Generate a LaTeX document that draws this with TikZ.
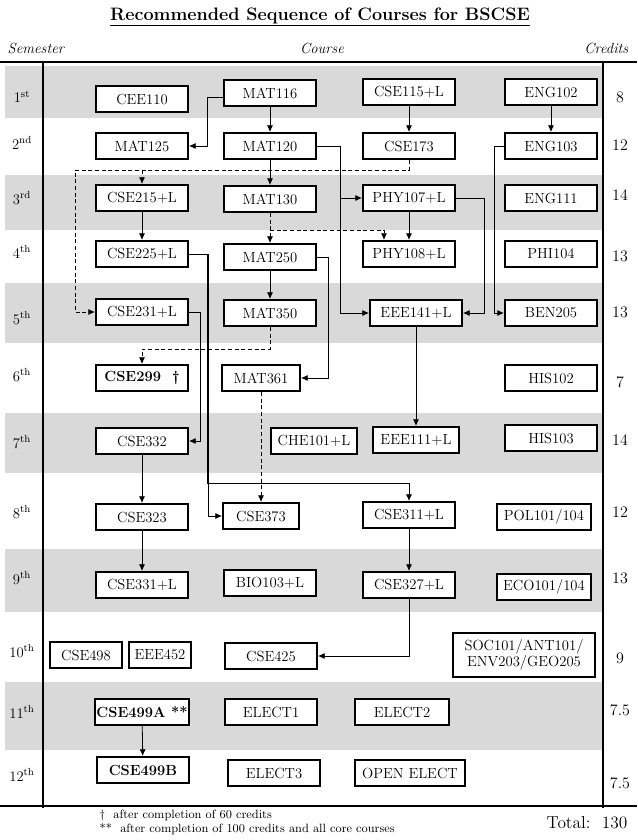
\documentclass[tikz,border=0pt]{standalone}
\usetikzlibrary{arrows.meta}
\definecolor{bandgrey}{RGB}{217,217,217}
\tikzset{
  course/.style={draw, line width=1.5pt, fill=white, minimum width=69pt, minimum height=19.5pt, inner sep=1pt, font=\fontsize{11}{12}\selectfont},
  boldcourse/.style={course, font=\fontsize{11}{12}\selectfont\bfseries},
  sem/.style={font=\fontsize{11}{13}\selectfont},
  cred/.style={font=\fontsize{12}{14}\selectfont},
  link/.style={-{Latex[length=5pt,width=4.5pt]}, line width=0.6pt},
  dlink/.style={link, dash pattern=on 3pt off 2pt},
}
\begin{document}
\begin{tikzpicture}[x=0.75pt, y=-0.75pt]
  \useasboundingbox (0,0) rectangle (637,840);
  \foreach \a/\b in {66/118, 175/230, 283/343, 413/473, 549/612, 682/750}
    \fill[bandgrey] (5,\a) rectangle (603,\b);
  \draw[line width=1.2pt] (0,62) -- (637,62) (0,806) -- (637,806);
  \draw[line width=0.9pt] (43,62) -- (43,808) (603,62) -- (603,808);

  \node[font=\fontsize{13.5}{16}\selectfont\bfseries] (title) at (320,17) {\underline{Recommended Sequence of Courses for BSCSE}};
  \node[anchor=west, font=\fontsize{11}{13}\selectfont\itshape] (hsem) at (3,48) {Semester};
  \node[font=\fontsize{11}{13}\selectfont\itshape] (hcourse) at (322,48) {Course};
  \node[anchor=east, font=\fontsize{11}{13}\selectfont\itshape] (hcred) at (633,48) {Credits};

  \foreach \n/\s/\y in {1/st/97, 2/nd/143, 3/rd/198, 4/th/252, 5/th/318, 6/th/375, 7/th/442, 8/th/512, 9/th/578, 10/th/651, 11/th/712, 12/th/775}
    \node[sem] (sem\n) at (22,\y) {\n\textsuperscript{\s}};
  \foreach \n/\c/\y in {1/8/97, 2/12/145, 3/14/195, 4/13/256, 5/13/312, 6/7/382, 7/14/440, 8/12/512, 9/13/578, 10/9/658, 11/7.5/710, 12/7.5/783}
    \node[cred] (cr\n) at (620,\y) {\c};

  \node[course] (cee110) at (142,99) {CEE110};
  \node[course] (mat116) at (270,93) {MAT116};
  \node[course] (cse115) at (409,92) {CSE115+L};
  \node[course] (eng102) at (551,92) {ENG102};
  \node[course] (mat125) at (142,146) {MAT125};
  \node[course] (mat120) at (270,146) {MAT120};
  \node[course] (cse173) at (409,146) {CSE173};
  \node[course] (eng103) at (551,146) {ENG103};
  \node[course] (cse215) at (142,198) {CSE215+L};
  \node[course] (mat130) at (270,199) {MAT130};
  \node[course] (phy107) at (409,198) {PHY107+L};
  \node[course] (eng111) at (551,198) {ENG111};
  \node[course] (cse225) at (142,254) {CSE225+L};
  \node[course] (mat250) at (270,257) {MAT250};
  \node[course] (phy108) at (409,254) {PHY108+L};
  \node[course] (phi104) at (551,254) {PHI104};
  \node[course] (cse231) at (142,312) {CSE231+L};
  \node[course] (mat350) at (270,313) {MAT350};
  \node[course] (eee141) at (416,313) {EEE141+L};
  \node[course] (ben205) at (551,313) {BEN205};
  \node[boldcourse] (cse299) at (142,378) {CSE299\ \ \textdagger};
  \node[course, minimum width=58.5pt] (mat361) at (261,378) {MAT361};
  \node[course] (his102) at (551,378) {HIS102};
  \node[course] (cse332) at (142,441) {CSE332};
  \node[course, minimum width=65pt] (che101) at (314,441) {CHE101+L};
  \node[course, minimum width=64.5pt] (eee111) at (416,440) {EEE111+L};
  \node[course] (his103) at (551,438) {HIS103};
  \node[course] (cse323) at (142,517) {CSE323};
  \node[course, minimum width=57pt] (cse373) at (261,516) {CSE373};
  \node[course] (cse311) at (409,515) {CSE311+L};
  \node[course, minimum width=70.5pt] (pol101) at (544,517) {POL101/104};
  \node[course] (cse331) at (142,585) {CSE331+L};
  \node[course] (bio103) at (270,583) {BIO103+L};
  \node[course] (cse327) at (409,585) {CSE327+L};
  \node[course, minimum width=70.5pt] (eco101) at (544,587) {ECO101/104};
  \node[course, minimum width=54pt] (cse498) at (86,655) {CSE498};
  \node[course, minimum width=47pt] (eee452) at (160,655) {EEE452};
  \node[course] (cse425) at (271,656) {CSE425};
  \node[course, minimum width=107pt, minimum height=33pt, align=center] (soc101) at (524,655) {SOC101/ANT101/\\ENV203/GEO205};
  \node[boldcourse] (cse499a) at (142,712) {CSE499A **};
  \node[course] (elect1) at (271,712) {ELECT1};
  \node[course, minimum width=70.5pt] (elect2) at (402,712) {ELECT2};
  \node[boldcourse] (cse499b) at (143,770) {CSE499B};
  \node[course] (elect3) at (274,773) {ELECT3};
  \node[course, minimum width=82.5pt] (openel) at (410,773) {OPEN ELECT};

  \begin{scope}[link]
    \draw ([yshift=-3.5pt]mat116.west) -- ++(-16,0) |- (mat125.east);
    \draw (mat116) -- (mat120);
    \draw (cse115) -- (cse173);
    \draw (eng102) -- (eng103);
    \draw (mat120) -- (mat130);
    \draw (mat120.east) -- ++(23,0) |- (phy107.west);
    \draw (mat120.east) -- ++(23,0) |- (eee141.west);
    \draw (cse215) -- (cse225);
    \draw (phy107) -- (phy108);
    \draw (phy107.east) -- ++(28,0) |- (eee141.east);
    \draw (eng103.west) -- ++(-10,0) |- (ben205.west);
    \draw (cse225.east) -- ++(19,0) |- (cse373.west);
    \draw (cse225.east -| 207,0) |- (cse311.north |- 0,483) -- (cse311.north);
    \draw (cse231.east) -- ++(11,0) |- (cse332.east);
    \draw (mat250) -- (mat350);
    \draw (mat250.east) -- ++(11,0) |- (mat361.east);
    \draw (eee141) -- (eee111);
    \draw (cse332) -- (cse323);
    \draw (cse323) -- (cse331);
    \draw (cse311) -- (cse327);
    \draw (cse327.south) |- (cse425.east);
    \draw (cse499a) -- (cse499b);
  \end{scope}
  \begin{scope}[dlink]
    \draw (cse173.south) |- (75,170) |- (cse231.west);
    \draw (cse215.north |- 0,170) -- (cse215.north);
    \draw (mat130) -- (mat250);
    \draw (mat130.south |- 0,230) -- (384,230) -- (384,230 |- phy108.north);
    \draw (mat350.south) |- (cse299.north |- 0,349) -- (cse299.north);
    \draw (mat361) -- (cse373);
  \end{scope}

  \node[anchor=west, font=\fontsize{9}{11}\selectfont] (fn1) at (95,816) {\textdagger\ \ after completion of 60 credits};
  \node[anchor=west, font=\fontsize{9}{11}\selectfont] (fn2) at (95,829) {**\ \ after completion of 100 credits and all core courses};
  \node[anchor=east, font=\fontsize{13}{15}\selectfont] (total) at (632,823) {Total:\ \ 130};
\end{tikzpicture}
\end{document}
